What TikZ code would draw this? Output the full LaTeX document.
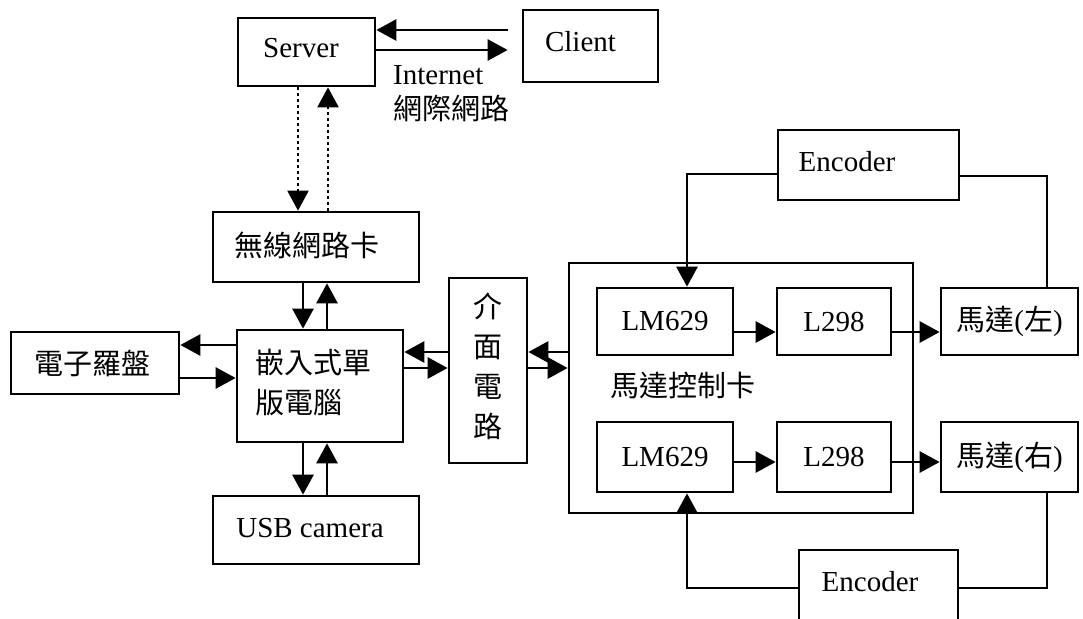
\documentclass[tikz,border=0pt]{standalone}
\usepackage{fontspec}
\setmainfont{Liberation Serif}
\newfontfamily\cjk{Noto Sans CJK TC}
\usetikzlibrary{arrows.meta}
\begin{document}
\begin{tikzpicture}[x=1pt,y=-1pt,
  font=\fontsize{29}{35}\selectfont,
  box/.style={draw, line width=2.7pt, inner sep=0pt},
  wire/.style={line width=2.7pt},
  arr/.style={line width=2.7pt, -{Triangle[length=20pt,width=21pt]}},
  dotl/.style={line width=2.2pt, dash pattern=on 3pt off 3pt},
  cjkblock/.style={font=\cjk\fontsize{29}{40}\selectfont},
  every label/.style={inner sep=0pt}]
\useasboundingbox (0,0) rectangle (1083,618);

% ---- blocks ----
\node[box, minimum width=137pt, minimum height=68pt,
      label={[xshift=-5.5pt,yshift=4pt]center:Server}] (server) at (306.5,52) {};
\node[box, minimum width=135pt, minimum height=72pt,
      label={[xshift=-10pt,yshift=4pt]center:Client}] (client) at (590.5,46) {};
\node[align=left, anchor=north west, inner sep=0pt] (net) at (393,65)
      {Internet\\{\cjk 網際網路}};
\node[box, minimum width=206pt, minimum height=70pt,
      label={[xshift=-9pt,yshift=2pt,font=\cjk\fontsize{29}{35}\selectfont]center:無線網路卡}] (wifi) at (316,247) {};
\node[box, minimum width=166pt, minimum height=112pt,
      label={[xshift=-7pt,yshift=3pt,align=left,cjkblock]center:{嵌入式單\\版電腦}}] (emb) at (320,386) {};
\node[box, minimum width=168pt, minimum height=62pt,
      label={[xshift=-3pt,font=\cjk\fontsize{29}{35}\selectfont]center:電子羅盤}] (comp) at (95,363) {};
\node[box, minimum width=206pt, minimum height=68pt,
      label={[xshift=-6pt,yshift=2pt]center:USB camera}] (usb) at (316,530) {};
\node[box, minimum width=78pt, minimum height=185pt,
      label={[yshift=4pt,align=center,cjkblock]center:{介\\面\\電\\路}}] (iface) at (488,370.5) {};

% motor control card and its parts
\node[box, minimum width=344pt, minimum height=250pt] (card) at (741,388) {};
\node[inner sep=0pt, font=\cjk\fontsize{29}{35}\selectfont] (cardlbl) at (683,385) {馬達控制卡};
\node[box, minimum width=136pt, minimum height=67pt] (lm1) at (665,321.5) {LM629};
\node[box, minimum width=114pt, minimum height=67pt] (l1) at (834,321.5) {L298};
\node[box, minimum width=137pt, minimum height=67pt] (m1) at (1009.5,321.5) {{\cjk 馬達}({\cjk 左})};
\node[box, minimum width=136pt, minimum height=70pt] (lm2) at (665,457) {LM629};
\node[box, minimum width=114pt, minimum height=70pt] (l2) at (834,457) {L298};
\node[box, minimum width=137pt, minimum height=70pt] (m2) at (1009.5,457) {{\cjk 馬達}({\cjk 右})};
\node[box, minimum width=181pt, minimum height=70pt,
      label={[xshift=-21.5pt,yshift=3pt]center:Encoder}] (enc1) at (868.5,165) {};
\node[box, minimum width=159pt, minimum height=76pt,
      label={[xshift=-8.5pt,yshift=6pt]center:Encoder}] (enc2) at (878.5,588) {};

% ---- Internet link ----
\coordinate (ct) at ([xshift=-14pt,yshift=16pt]client.west);
\draw[arr] (ct) -- (ct -| server.east);
\coordinate (sb) at ([yshift=2pt]server.east);
\draw[arr] (sb) -- (sb -| ct);

% ---- wireless link (dotted) ----
\coordinate (sd) at ([xshift=-8.5pt]server.south);
\draw[arr,dotl] (sd) -- (sd |- wifi.north);
\coordinate (wu) at ([xshift=12pt]wifi.north);
\draw[arr,dotl] (wu) -- (wu |- server.south);

% ---- wireless card <-> single board computer ----
\coordinate (wd) at ([xshift=-13pt]wifi.south);
\draw[arr] (wd) -- (wd |- emb.north);
\coordinate (eu) at ([xshift=11pt]wifi.south);
\draw[arr] (eu |- emb.north) -- (eu);

% ---- single board computer <-> USB camera ----
\coordinate (ed) at ([xshift=-17pt]emb.south);
\draw[arr] (ed) -- (ed |- usb.north);
\coordinate (ud) at ([xshift=7pt]emb.south);
\draw[arr] (ud |- usb.north) -- (ud);

% ---- single board computer <-> compass ----
\coordinate (ew) at ([yshift=41pt]emb.west);
\draw[arr] (ew) -- (ew -| comp.east);
\coordinate (ce) at ([yshift=-15pt]comp.east);
\draw[arr] (ce) -- (ce -| emb.west);

% ---- interface circuit ----
\coordinate (iw) at ([yshift=18.5pt]iface.west);
\draw[arr] (iw) -- (iw -| emb.east);
\coordinate (iw2) at ([yshift=2.5pt]iface.west);
\draw[arr] (iw2 -| emb.east) -- (iw2);
\coordinate (ie) at ([yshift=18.5pt]iface.east);
\draw[arr] (ie -| card.west) -- (ie);
\coordinate (ie2) at ([yshift=2.5pt]iface.east);
\draw[arr] (ie2) -- (ie2 -| card.west);

% ---- drive chains ----
\draw[arr] ([yshift=-10.5pt]lm1.east) -- ([yshift=-10.5pt]l1.west);
\draw[arr] ([yshift=-10.5pt]l1.east) -- ([yshift=-10.5pt]m1.west);
\draw[arr] ([yshift=-5pt]lm2.east) -- ([yshift=-5pt]l2.west);
\draw[arr] ([yshift=-5pt]l2.east) -- ([yshift=-5pt]m2.west);

% ---- encoder feedback ----
\draw[arr] ([yshift=-9pt]enc1.west) -| ([xshift=22pt]lm1.north);
\draw[wire] ([yshift=-11pt]enc1.east) -| ([xshift=37.5pt]m1.north);
\draw[arr] (enc2.west) -| ([xshift=22pt]lm2.south);
\draw[wire] ([xshift=37.5pt]m2.south) |- (enc2.east);
\end{tikzpicture}
\end{document}
